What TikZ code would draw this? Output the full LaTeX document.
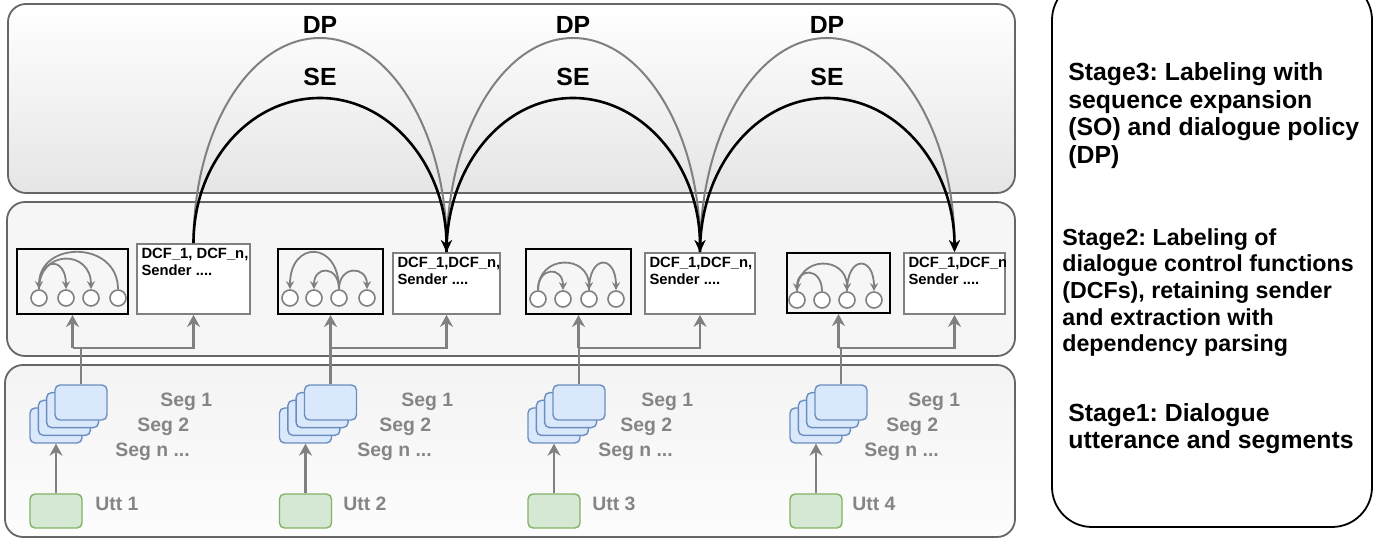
\documentclass[tikz,border=0pt]{standalone}
\usepackage{fontspec}
\setmainfont{Liberation Sans}
\usepackage{xcolor}
\usepackage{tikz}
\usetikzlibrary{arrows.meta, positioning, shadows, calc}
\definecolor{dlgpanel}{HTML}{666666}
\definecolor{dlggray}{HTML}{808080}
\definecolor{dlgtext}{HTML}{858585}
\definecolor{dlgblue}{HTML}{DAE8FC}
\definecolor{dlgblueline}{HTML}{6C8EBF}
\definecolor{dlggreen}{HTML}{D5E8D4}
\definecolor{dlggreenline}{HTML}{82B366}
\frenchspacing

\begin{document}
\begin{tikzpicture}[
    x=0.5pt, y=-0.5pt,
    panel/.style={draw=dlgpanel, line width=0.9pt, rounded corners=9pt},
    stagebox/.style={draw=black, line width=0.9pt, rounded corners=20pt, fill=white},
    stagetext/.style={anchor=north west, inner sep=0pt, align=left, font=\fontsize{12.4}{13.9}\selectfont\bfseries},
    depbox/.style={draw=black, line width=1pt, minimum height=32.5pt, inner sep=0pt},
    dcfbox/.style={draw=dlggray, line width=0.9pt, fill=white, minimum height=30.5pt, inner sep=0pt},
    dcftext/.style={anchor=north west, inner sep=0pt, align=left, font=\fontsize{7.4}{8.2}\selectfont\bfseries},
    dot/.style={circle, draw=dlggray, line width=0.8pt, fill=white, minimum size=8pt, inner sep=0pt},
    deparc/.style={draw=dlggray, line width=0.9pt, -{Stealth[length=4pt, width=4pt]}},
    segstack/.style={draw=dlgblueline, fill=dlgblue, line width=0.7pt, rounded corners=2.5pt,
        minimum width=26pt, minimum height=17.5pt, inner sep=0pt,
        copy shadow={shadow xshift=-12.5pt, shadow yshift=-11.5pt},
        copy shadow={shadow xshift=-8.3pt, shadow yshift=-7.7pt},
        copy shadow={shadow xshift=-4.2pt, shadow yshift=-3.8pt}},
    uttbox/.style={draw=dlggreenline, fill=dlggreen, line width=0.7pt, rounded corners=2.5pt,
        minimum width=26pt, minimum height=17pt, inner sep=0pt},
    seglabel/.style={anchor=base west, inner sep=0pt, text=dlgtext, font=\fontsize{9.7}{11}\selectfont\bfseries},
    flow/.style={draw=dlggray, line width=1.3pt, -{Stealth[length=6pt, width=6.5pt]}},
    link/.style={draw=dlggray, line width=1.3pt},
    dparc/.style={draw=dlggray, line width=1pt, -{Stealth[length=6pt, width=5.5pt]}},
    searc/.style={draw=black, line width=1.3pt, -{Stealth[length=6pt, width=5.5pt]}},
    arclabel/.style={inner sep=0pt, font=\fontsize{12.4}{14}\selectfont\bfseries},
]
\useasboundingbox (0,0) rectangle (1382,539);

% Stage panels
\draw[panel, top color=white, bottom color=black!10] (8,4) rectangle (1015,193);
\draw[panel, fill=black!3.5] (7,202) rectangle (1015,356);
\draw[panel, top color=black!4.5, bottom color=black!1] (5,365) rectangle (1015,537);

% Stage descriptions
\draw[stagebox] (1052,-20) rectangle (1372,527);
\node[stagetext] (st3) at (1068,62) {Stage3: Labeling with\\sequence expansion\\(SO) and dialogue policy\\(DP)};
\node[stagetext, font=\fontsize{11.6}{13.3}\selectfont\bfseries] (st2) at (1062,228) {Stage2: Labeling of\\dialogue control functions\\(DCFs), retaining sender\\and extraction with\\dependency parsing};
\node[stagetext, font=\fontsize{12.4}{13.4}\selectfont\bfseries] (st1) at (1068,403) {Stage1: Dialogue\\utterance and segments};

% Utterances and segments
\node[uttbox] (utt1) at (56,511) {};
\node[uttbox] (utt2) at (305.5,511) {};
\node[uttbox] (utt3) at (554,511) {};
\node[uttbox] (utt4) at (816,511) {};
\node[segstack] (seg1) at (81,402.5) {};
\node[segstack] (seg2) at (330.5,402.5) {};
\node[segstack] (seg3) at (579,402.5) {};
\node[segstack] (seg4) at (841,402.5) {};

\node[seglabel] at (95,510) {Utt 1};
\node[seglabel] at (343,510) {Utt 2};
\node[seglabel] at (592,510) {Utt 3};
\node[seglabel] at (852,510) {Utt 4};

\node[seglabel] at (160,407) {Seg 1};
\node[seglabel] at (137,432) {Seg 2};
\node[seglabel] at (115,457) {Seg n ...};
\node[seglabel] at (401,407) {Seg 1};
\node[seglabel] at (379,432) {Seg 2};
\node[seglabel] at (357,457) {Seg n ...};
\node[seglabel] at (641,407) {Seg 1};
\node[seglabel] at (620,432) {Seg 2};
\node[seglabel] at (598,457) {Seg n ...};
\node[seglabel] at (908,407) {Seg 1};
\node[seglabel] at (886,432) {Seg 2};
\node[seglabel] at (864,457) {Seg n ...};

\draw[flow, shorten >=11.5pt] (utt1.north) -- (utt1.north |- seg1.south);
\draw[flow, shorten >=11.5pt] (utt2.north) -- (utt2.north |- seg2.south);
\draw[flow, shorten >=11.5pt] (utt3.north) -- (utt3.north |- seg3.south);
\draw[flow, shorten >=11.5pt] (utt4.north) -- (utt4.north |- seg4.south);

% Dependency parses
\node[depbox, minimum width=55.5pt] (dep1) at (72.5,281.5) {};
\node[depbox, minimum width=52.5pt] (dep2) at (330.5,281.5) {};
\node[depbox, minimum width=52.5pt] (dep3) at (578.5,281.5) {};
\node[depbox, minimum width=51.5pt, minimum height=30pt] (dep4) at (838.5,283) {};

\node[dot] (a1) at (39,298) {};
\node[dot] (a2) at (66,298) {};
\node[dot] (a3) at (91,298) {};
\node[dot] (a4) at (118,298) {};
\draw[deparc] (a4.north) .. controls +(0,-49) and +(0,-49) .. (a1.north);
\draw[deparc] (a1.north) .. controls +(0,-40) and +(0,-40) .. (a3.north);
\draw[deparc] (a1.north) .. controls +(0,-33) and +(0,-33) .. (a2.north);

\node[dot] (b1) at (290,298) {};
\node[dot] (b2) at (314,298) {};
\node[dot] (b3) at (339,298) {};
\node[dot] (b4) at (367,298) {};
\draw[deparc] (b3.north) .. controls +(0,-49) and +(0,-49) .. (b1.north);
\draw[deparc] (b3.north) .. controls +(0,-24) and +(0,-24) .. (b2.north);
\draw[deparc] (b3.north) .. controls +(0,-24) and +(0,-24) .. (b4.north);

\node[dot] (c1) at (538,299) {};
\node[dot] (c2) at (563,299) {};
\node[dot] (c3) at (589,299) {};
\node[dot] (c4) at (616,299) {};
\draw[deparc] (c1.north) .. controls +(0,-36) and +(0,-36) .. (c3.north);
\draw[deparc] (c1.north) .. controls +(0,-24) and +(0,-24) .. (c2.north);
\draw[deparc] (c3.north) .. controls +(0,-36) and +(0,-36) .. (c4.north);

\node[dot] (d1) at (797,300) {};
\node[dot] (d2) at (822,300) {};
\node[dot] (d3) at (847,300) {};
\node[dot] (d4) at (874,300) {};
\draw[deparc] (d2.north) .. controls +(0,-24) and +(0,-24) .. (d1.north);
\draw[deparc] (d1.north) .. controls +(0,-36) and +(0,-36) .. (d3.north);
\draw[deparc] (d3.north) .. controls +(0,-36) and +(0,-36) .. (d4.north);

% DCF labels
\node[dcfbox, minimum width=56.5pt, minimum height=35pt] (dcf1) at (193.5,279) {};
\node[dcfbox, minimum width=53.5pt] (dcf2) at (446.5,283.5) {};
\node[dcfbox, minimum width=55pt] (dcf3) at (700,283.5) {};
\node[dcfbox, minimum width=50.5pt] (dcf4) at (954.5,283.5) {};
\begin{scope}
  \clip (dcf1.south west) rectangle (dcf1.north east);
  \node[dcftext] at ($(dcf1.north west)+(5,5)$) {DCF\_1, DCF\_n,\\Sender ....};
\end{scope}
\begin{scope}
  \clip (dcf2.south west) rectangle (dcf2.north east);
  \node[dcftext] at ($(dcf2.north west)+(5,5)$) {DCF\_1,DCF\_n,\\Sender ....};
\end{scope}
\begin{scope}
  \clip (dcf3.south west) rectangle (dcf3.north east);
  \node[dcftext] at ($(dcf3.north west)+(5,5)$) {DCF\_1,DCF\_n,\\Sender ....};
\end{scope}
\begin{scope}
  \clip (dcf4.south west) rectangle (dcf4.north east);
  \node[dcftext] at ($(dcf4.north west)+(5,5)$) {DCF\_1,DCF\_n,\\Sender ....};
\end{scope}

% Stage 1 to stage 2
\coordinate (j1) at (81,348);
\coordinate (j2) at (330.5,348);
\coordinate (j3) at (579,348);
\coordinate (j4) at (841,348);
\draw[link] (seg1.north) -- (j1);
\draw[link] (seg2.north) -- (j2);
\draw[link] (seg3.north) -- (j3);
\draw[link] (seg4.north) -- (j4);
\draw[flow] (j1 -| dep1) -- (dep1.south);
\draw[flow] (j1 -| dep1) -| (dcf1.south);
\draw[flow] (j2 -| dep2) -- (dep2.south);
\draw[flow] (j2 -| dep2) -| (dcf2.south);
\draw[flow] (j3 -| dep3) -- (dep3.south);
\draw[flow] (j3 -| dep3) -| (dcf3.south);
\draw[flow] (j4 -| dep4) -- (dep4.south);
\draw[flow] (j4 -| dep4) -| (dcf4.south);

% Stage 3 arcs
\coordinate (dptop1) at (320,38);
\coordinate (dptop2) at (573,38);
\coordinate (dptop3) at (827,38);
\coordinate (setop1) at (320,98);
\coordinate (setop2) at (573,98);
\coordinate (setop3) at (827,98);

\draw[dparc] (dcf1.north) .. controls +(0,-114) and +(-70,0) .. (dptop1) .. controls +(70,0) and +(0,-119) .. (dcf2.north);
\draw[dparc] (dcf2.north) .. controls +(0,-119) and +(-70,0) .. (dptop2) .. controls +(70,0) and +(0,-119) .. (dcf3.north);
\draw[dparc] (dcf3.north) .. controls +(0,-119) and +(-70,0) .. (dptop3) .. controls +(70,0) and +(0,-119) .. (dcf4.north);
\draw[searc] (dcf1.north) .. controls +(0,-81) and +(-70,0) .. (setop1) .. controls +(70,0) and +(0,-86) .. (dcf2.north);
\draw[searc] (dcf2.north) .. controls +(0,-86) and +(-70,0) .. (setop2) .. controls +(70,0) and +(0,-86) .. (dcf3.north);
\draw[searc] (dcf3.north) .. controls +(0,-86) and +(-70,0) .. (setop3) .. controls +(70,0) and +(0,-86) .. (dcf4.north);

\node[arclabel, above=2pt of dptop1] {DP};
\node[arclabel, above=2pt of dptop2] {DP};
\node[arclabel, above=2pt of dptop3] {DP};
\node[arclabel, above=6pt of setop1] {SE};
\node[arclabel, above=6pt of setop2] {SE};
\node[arclabel, above=6pt of setop3] {SE};

\end{tikzpicture}
\end{document}
